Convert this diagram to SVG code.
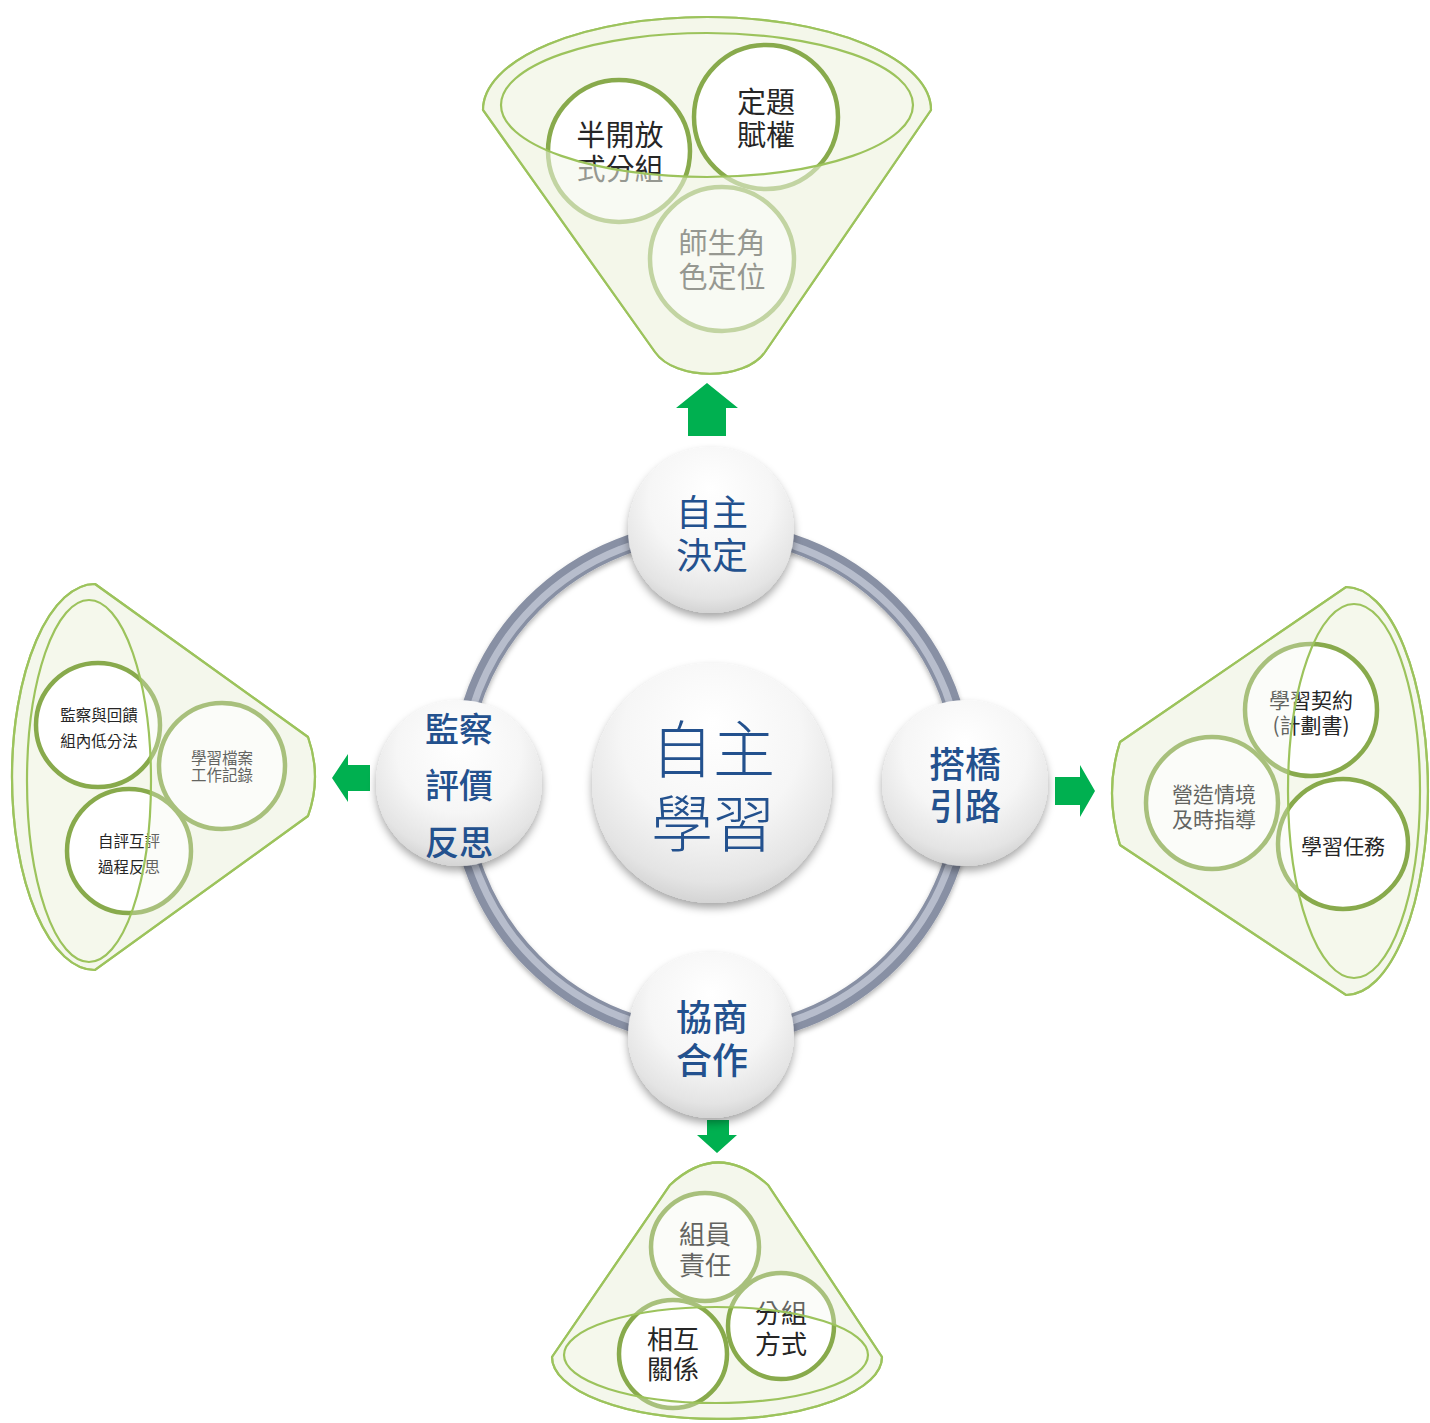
<svg xmlns="http://www.w3.org/2000/svg" width="1430" height="1423" viewBox="0 0 1430 1423">
<defs>
<style>
.funnel{fill:#f5f8ec;stroke:#9cc35c;stroke-width:2.2}
.funnel-line{fill:none;stroke:#9cc35c;stroke-width:2.2}
.ov-strong{fill:#f3f6ea;fill-opacity:0.55;fill-rule:evenodd;stroke:none}
.ov-soft{fill:#f3f6ea;fill-opacity:0.3;fill-rule:evenodd;stroke:none}
.sub{fill:#ffffff;stroke:#88aa4c;stroke-width:4.5}
.t{font-family:"Noto Sans CJK TC","Noto Sans CJK SC",sans-serif;text-anchor:middle;dominant-baseline:central;fill:#262626}
.nt{font-family:"Noto Sans CJK TC","Noto Sans CJK SC",sans-serif;text-anchor:middle;dominant-baseline:central;fill:#23518e}
.arrow{fill:#00b050}
.node{fill:url(#nodeGrad);filter:url(#shadow)}
</style>
<radialGradient id="nodeGrad" cx="50%" cy="35%" r="68%" fx="50%" fy="25%">
<stop offset="0" stop-color="#ffffff"/>
<stop offset="0.55" stop-color="#f6f6f6"/>
<stop offset="0.85" stop-color="#e4e4e4"/>
<stop offset="1" stop-color="#cfcfcf"/>
</radialGradient>
<filter id="shadow" x="-30%" y="-30%" width="160%" height="170%">
<feDropShadow dx="0" dy="5" stdDeviation="4" flood-color="#000" flood-opacity="0.35"/>
</filter>
<filter id="ringShadow" x="-10%" y="-10%" width="120%" height="125%">
<feDropShadow dx="0" dy="3" stdDeviation="2.5" flood-color="#000" flood-opacity="0.3"/>
</filter>
</defs>

<g id="connectors">
<g id="ring" filter="url(#ringShadow)">
<circle cx="712" cy="783" r="253" fill="none" stroke="#8890a4" stroke-width="18"/>
<circle cx="712" cy="783" r="251" fill="none" stroke="#c0c6d3" stroke-width="7" stroke-opacity="0.85"/>
</g>
<polygon class="arrow" points="707,383 738,408 726,408 726,436 688,436 688,408 676,408"/>
<polygon class="arrow" points="332,778 348,754 348,765 370,765 370,791 348,791 348,802"/>
<polygon class="arrow" points="1095,791 1080,765 1080,777 1055,777 1055,805 1080,805 1080,817"/>
<polygon class="arrow" points="717,1153 697,1135 707,1135 707,1120 729,1120 729,1135 737,1135"/>
</g>

<g id="funnel-top">
<path class="funnel" d="M 483 110 A 224 93 0 0 1 931 110 L 765 352 C 745 381 675 381 655 352 Z"/>
<circle class="sub" cx="619" cy="151" r="71"/>
<circle class="sub" cx="766" cy="117" r="72"/>
<circle class="sub" cx="722" cy="259" r="72"/>
<text class="t" font-size="29"><tspan x="620" y="133">半開放</tspan><tspan x="620" y="167">式分組</tspan></text>
<text class="t" font-size="29"><tspan x="766" y="100">定題</tspan><tspan x="766" y="133">賦權</tspan></text>
<text class="t" font-size="29"><tspan x="722" y="241">師生角</tspan><tspan x="722" y="275">色定位</tspan></text>
<path class="ov-strong" d="M 483 110 A 224 93 0 0 1 931 110 L 765 352 C 745 381 675 381 655 352 Z M 501 105 A 206 72 0 1 0 913 105 A 206 72 0 1 0 501 105 Z"/>
<ellipse class="funnel-line" cx="707" cy="105" rx="206" ry="72"/>
<path class="funnel-line" d="M 483 110 A 224 93 0 0 1 931 110 L 765 352 C 745 381 675 381 655 352 Z"/>
</g>

<g id="funnel-left">
<path class="funnel" d="M 95 584 L 308 737 Q 322 777 308 816 L 95 970 A 83 193 0 0 1 95 584 Z"/>
<circle class="sub" cx="98" cy="725" r="62"/>
<circle class="sub" cx="222" cy="766" r="63"/>
<circle class="sub" cx="129" cy="851" r="62"/>
<text class="t" font-size="15.5"><tspan x="99" y="714">監察與回饋</tspan><tspan x="99" y="740">組內低分法</tspan></text>
<text class="t" font-size="15.5"><tspan x="222" y="757">學習檔案</tspan><tspan x="222" y="774">工作記錄</tspan></text>
<text class="t" font-size="15.5"><tspan x="129" y="840">自評互評</tspan><tspan x="129" y="866">過程反思</tspan></text>
<path class="ov-soft" d="M 95 584 L 308 737 Q 322 777 308 816 L 95 970 A 83 193 0 0 1 95 584 Z M 89 600 A 62 181 0 1 0 89 962 A 62 181 0 1 0 89 600 Z"/>
<ellipse class="funnel-line" cx="89" cy="781" rx="62" ry="181"/>
<path class="funnel-line" d="M 95 584 L 308 737 Q 322 777 308 816 L 95 970 A 83 193 0 0 1 95 584 Z"/>
</g>

<g id="funnel-right">
<path class="funnel" d="M 1346 587 A 82 204 0 0 1 1346 995 L 1120 845 Q 1104 793 1120 742 Z"/>
<circle class="sub" cx="1311" cy="710" r="66"/>
<circle class="sub" cx="1212" cy="803" r="66"/>
<circle class="sub" cx="1343" cy="844" r="65"/>
<text class="t" font-size="21"><tspan x="1311" y="699">學習契約</tspan><tspan x="1311" y="724">(計劃書)</tspan></text>
<text class="t" font-size="21"><tspan x="1214" y="793">營造情境</tspan><tspan x="1214" y="818">及時指導</tspan></text>
<text class="t" font-size="21" x="1343" y="845">學習任務</text>
<path class="ov-soft" d="M 1346 587 A 82 204 0 0 1 1346 995 L 1120 845 Q 1104 793 1120 742 Z M 1354 604 A 66 187 0 1 0 1354 978 A 66 187 0 1 0 1354 604 Z"/>
<ellipse class="funnel-line" cx="1354" cy="791" rx="66" ry="187"/>
<path class="funnel-line" d="M 1346 587 A 82 204 0 0 1 1346 995 L 1120 845 Q 1104 793 1120 742 Z"/>
</g>

<g id="funnel-bottom">
<path class="funnel" d="M 552 1357 L 670 1185 Q 718 1140 768 1185 L 882 1357 A 165 62 0 0 1 552 1357 Z"/>
<circle class="sub" cx="705" cy="1247" r="54"/>
<circle class="sub" cx="781" cy="1326" r="53"/>
<circle class="sub" cx="673" cy="1354" r="54"/>
<text class="t" font-size="26"><tspan x="705" y="1232">組員</tspan><tspan x="705" y="1263">責任</tspan></text>
<text class="t" font-size="26"><tspan x="781" y="1311">分組</tspan><tspan x="781" y="1342">方式</tspan></text>
<text class="t" font-size="26"><tspan x="673" y="1337">相互</tspan><tspan x="673" y="1367">關係</tspan></text>
<path class="ov-soft" d="M 552 1357 L 670 1185 Q 718 1140 768 1185 L 882 1357 A 165 62 0 0 1 552 1357 Z M 564 1355 A 152 48 0 1 0 868 1355 A 152 48 0 1 0 564 1355 Z"/>
<ellipse class="funnel-line" cx="716" cy="1355" rx="152" ry="48"/>
<path class="funnel-line" d="M 552 1357 L 670 1185 Q 718 1140 768 1185 L 882 1357 A 165 62 0 0 1 552 1357 Z"/>
</g>

<g id="node-center">
<circle class="node" cx="712" cy="783" r="120"/>
<text class="nt" font-size="62" font-weight="300"><tspan x="713" y="746">自主</tspan><tspan x="713" y="820">學習</tspan></text>
</g>
<g id="node-top">
<circle class="node" cx="711" cy="530" r="83"/>
<text class="nt" font-size="36" font-weight="400"><tspan x="712" y="510">自主</tspan><tspan x="712" y="553">決定</tspan></text>
</g>
<g id="node-right">
<circle class="node" cx="965" cy="783" r="83"/>
<text class="nt" font-size="36" font-weight="500"><tspan x="965" y="762">搭橋</tspan><tspan x="965" y="804">引路</tspan></text>
</g>
<g id="node-left">
<circle class="node" cx="459" cy="783" r="83"/>
<text class="nt" font-size="34" font-weight="500"><tspan x="459" y="727">監察</tspan><tspan x="459" y="783">評價</tspan><tspan x="459" y="840">反思</tspan></text>
</g>
<g id="node-bottom">
<circle class="node" cx="711" cy="1035" r="83"/>
<text class="nt" font-size="36" font-weight="500"><tspan x="712" y="1015">協商</tspan><tspan x="712" y="1058">合作</tspan></text>
</g>
</svg>
